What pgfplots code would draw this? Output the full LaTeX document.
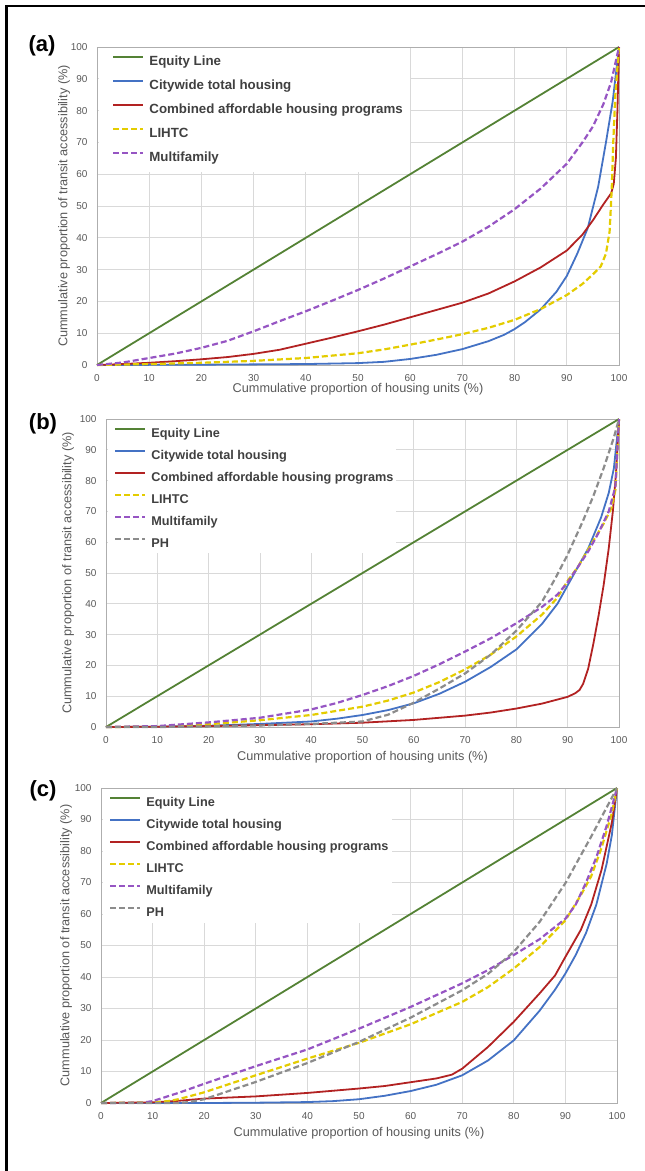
\documentclass[border=0pt]{standalone}
\usepackage{fontspec}
\setmainfont{Liberation Sans}
\usepackage{pgfplots}
\pgfplotsset{compat=1.18}

\definecolor{cgreen}{RGB}{84,130,53}
\definecolor{cblue}{RGB}{68,114,196}
\definecolor{cred}{RGB}{178,34,34}
\definecolor{cyellow}{RGB}{228,204,0}
\definecolor{cpurple}{RGB}{150,85,195}
\definecolor{cgrey}{RGB}{140,140,140}
\definecolor{gridgray}{RGB}{217,217,217}
\definecolor{labgray}{RGB}{89,89,89}
\definecolor{legtext}{RGB}{64,64,64}

\pgfplotsset{
  lorenz/.style={
    scale only axis,
    xmin=0, xmax=100, ymin=0, ymax=100,
    xtick={0,10,...,100}, ytick={0,10,...,100},
    grid=major,
    major grid style={draw=gridgray, line width=0.8pt},
    axis line style={draw=gridgray!80!black, line width=0.8pt},
    major tick length=0pt,
    tick label style={font=\fontsize{10}{12}\selectfont, text=labgray},
    xticklabel style={yshift=-6pt},
    yticklabel style={xshift=-6pt},
    /pgf/number format/assume math mode=true,
    label style={font=\fontsize{12.7}{14}\selectfont, text=labgray},
    xlabel={Cummulative proportion of housing units (\%)},
    ylabel={Cummulative proportion of transit accessibility (\%)},
    clip=false,
    legend cell align=left,
    legend style={at={(0,1)}, anchor=north west, draw=none, fill=none,
      font=\bfseries\fontsize{13.3}{15}\selectfont, text=legtext,
      inner xsep=15pt, inner ysep=8pt, column sep=5pt,
      nodes={inner sep=0pt, text height=10pt, text depth=3pt}},
    legend image code/.code={\draw[##1] (0pt,4.6pt) -- (30pt,4.6pt);},
  },
  eq/.style={color=cgreen, line width=1.8pt},
  cw/.style={color=cblue, line width=1.8pt},
  cb/.style={color=cred, line width=1.8pt},
  li/.style={color=cyellow, line width=2.2pt, dash pattern=on 6pt off 3pt},
  mf/.style={color=cpurple, line width=2.2pt, dash pattern=on 6pt off 3pt},
  ph/.style={color=cgrey, line width=2.2pt, dash pattern=on 6pt off 3pt},
}

\begin{document}
\begin{tikzpicture}
\useasboundingbox (0pt,0pt) rectangle (645pt,-1171pt);
\draw[line width=2.5pt] (6.5pt,-1171pt) -- (6.5pt,-6pt) -- (645pt,-6pt);

\node[font=\bfseries\fontsize{22}{24}\selectfont] at (42pt,-46pt) {(a)};
\node[font=\bfseries\fontsize{22}{24}\selectfont] at (43pt,-424pt) {(b)};
\node[font=\bfseries\fontsize{22}{24}\selectfont] at (43pt,-791pt) {(c)};

% (a)
\begin{axis}[lorenz, at={(97pt,-365pt)}, anchor=south west,
  width=522pt, height=318pt, legend style={row sep=11pt},
  xlabel style={at={([yshift=-24pt]axis description cs:0.5,0)}, anchor=center},
  ylabel style={at={([xshift=-33pt]axis description cs:0,0.5)}, anchor=center}]
\fill[white] (rel axis cs:0.003,0.607) rectangle (rel axis cs:0.6,0.997);
\addplot[eq] coordinates {(0,0) (100,100)};
\addlegendentry{Equity Line}
\addplot[cw] coordinates {(0,0) (10,0.05) (20,0.1) (30,0.2) (40,0.3) (45,0.45) (50,0.6) (55,1.0) (60,1.9) (65,3.2) (70,5) (75,7.5) (78,9.5) (80,11.3) (82,13.5) (85,17.5) (88,23) (90,28) (92,35) (94,43) (96,56) (97.5,70) (98.8,83) (100,100)};
\addlegendentry{Citywide total housing}
\addplot[cb] coordinates {(0,0) (5,0.3) (10,0.7) (15,1.2) (20,1.8) (25,2.5) (30,3.5) (35,4.8) (40,6.7) (45,8.6) (50,10.6) (55,12.7) (60,15) (65,17.3) (70,19.6) (75,22.5) (80,26.3) (85,30.7) (90,36) (93,41) (95,45.5) (97,50.5) (98.5,54) (99,57) (99.4,65) (99.7,80) (100,100)};
\addlegendentry{Combined affordable housing programs}
\addplot[li] coordinates {(0,0) (10,0.3) (20,0.7) (30,1.3) (40,2.2) (50,3.7) (55,4.9) (60,6.4) (65,8) (70,9.7) (75,11.7) (80,14.2) (85,17.6) (90,22) (93,25.5) (95,28.5) (96.5,31) (97.5,35) (98.2,42) (98.6,55) (98.9,70) (99.3,85) (100,100)};
\addlegendentry{LIHTC}
\addplot[mf] coordinates {(0,0) (5,0.8) (10,2.2) (15,3.6) (20,5.4) (25,7.6) (30,10.6) (35,13.8) (40,16.9) (45,20.2) (50,23.6) (55,27.2) (60,31) (65,34.8) (70,38.8) (75,43.5) (80,49) (85,55.5) (90,63.3) (93,70) (95,75) (97,82) (98.5,89) (100,100)};
\addlegendentry{Multifamily}
\end{axis}

% (b)
\begin{axis}[lorenz, at={(106pt,-727pt)}, anchor=south west,
  width=513pt, height=308pt,
  legend style={row sep=9pt, inner xsep=8pt, font=\bfseries\fontsize{12.7}{15}\selectfont},
  xlabel style={at={([yshift=-30pt]axis description cs:0.5,0)}, anchor=center},
  ylabel style={at={([xshift=-38pt]axis description cs:0,0.5)}, anchor=center}]
\fill[white] (rel axis cs:0.003,0.565) rectangle (rel axis cs:0.565,0.997);
\addplot[eq] coordinates {(0,0) (100,100)};
\addlegendentry{Equity Line}
\addplot[cw] coordinates {(0,0) (10,0.1) (20,0.4) (30,1.0) (40,1.8) (45,2.7) (50,3.9) (55,5.5) (60,7.7) (65,10.8) (70,14.7) (75,19.5) (80,25.2) (85,33.5) (88,40) (90,46) (92,52) (94,58) (95,62) (96.5,68) (98,76) (99,84) (100,100)};
\addlegendentry{Citywide total housing}
\addplot[cb] coordinates {(0,0) (10,0.1) (20,0.3) (30,0.6) (40,0.9) (50,1.4) (60,2.3) (70,3.7) (75,4.7) (80,6) (85,7.6) (90,9.8) (91.5,11) (92.3,12) (93,14) (94,19) (95,27) (96,36) (97,46) (98,58) (98.8,70) (99.4,82) (100,100)};
\addlegendentry{Combined affordable housing programs}
\addplot[li] coordinates {(0,0) (10,0.1) (20,0.9) (30,2.2) (40,3.9) (50,6.6) (55,8.6) (60,11.2) (65,14.6) (70,18.7) (75,23.5) (80,29.4) (85,36.5) (88,42) (90,47.5) (92,52) (95,60.5) (97,66) (98.5,71) (99.3,77) (100,100)};
\addlegendentry{LIHTC}
\addplot[mf] coordinates {(0,0) (10,0.3) (20,1.5) (30,3) (40,5.7) (45,7.8) (50,10.4) (55,13.3) (60,16.6) (65,20.4) (70,24.5) (75,28.8) (80,33.7) (85,39) (88,43) (90,47) (92,52) (94,57) (96,63) (98,70) (99.3,78) (100,100)};
\addlegendentry{Multifamily}
\addplot[ph] coordinates {(0,0) (10,0) (20,0.2) (30,0.5) (40,1.0) (50,1.8) (55,4) (60,7.9) (65,12.5) (70,17.4) (75,23.5) (80,31.3) (85,40.7) (87.5,48) (90,56) (93,67) (95,75) (97,84) (99,94) (100,100)};
\addlegendentry{PH}
\end{axis}

% (c)
\begin{axis}[lorenz, at={(101pt,-1103pt)}, anchor=south west,
  width=516pt, height=315pt,
  legend style={row sep=9pt, inner xsep=8pt, font=\bfseries\fontsize{12.7}{15}\selectfont},
  xlabel style={at={([yshift=-30pt]axis description cs:0.5,0)}, anchor=center},
  ylabel style={at={([xshift=-35pt]axis description cs:0,0.5)}, anchor=center}]
\fill[white] (rel axis cs:0.003,0.571) rectangle (rel axis cs:0.564,0.997);
\addplot[eq] coordinates {(0,0) (100,100)};
\addlegendentry{Equity Line}
\addplot[cw] coordinates {(0,0) (20,0) (30,0.1) (40,0.3) (45,0.6) (50,1.2) (55,2.3) (60,3.8) (65,5.8) (70,8.8) (75,13.5) (80,19.9) (85,29.3) (88,36) (90,41.1) (92,47) (94,54) (96,63) (98,76) (99,85) (100,100)};
\addlegendentry{Citywide total housing}
\addplot[cb] coordinates {(0,0) (10,0.2) (15,0.7) (20,1.4) (30,2.1) (40,3.2) (50,4.6) (55,5.4) (60,6.6) (65,7.8) (68,9) (70,10.9) (75,17.8) (80,25.8) (85,34.8) (88,40.5) (90,46.4) (93,55) (95,63) (97,74) (99,89) (100,100)};
\addlegendentry{Combined affordable housing programs}
\addplot[li] coordinates {(0,0) (10,0.2) (13,0.6) (15,1.2) (20,3.4) (30,8.8) (40,14.1) (50,19.1) (60,25) (70,32.1) (75,36.8) (80,42.7) (85,49.5) (90,58) (93,66) (95,72) (97,81) (99,92) (100,100)};
\addlegendentry{LIHTC}
\addplot[mf] coordinates {(0,0) (8,0.1) (10,0.6) (15,3.2) (20,6.1) (30,11.7) (40,17) (50,23.6) (60,30.5) (70,38) (75,42.2) (80,47) (85,52) (90,58.5) (92,63) (94,70) (96,78) (98,88) (100,100)};
\addlegendentry{Multifamily}
\addplot[ph] coordinates {(0,0) (15,0) (17,0.3) (20,1.2) (30,6.7) (40,12.7) (50,19.4) (60,27.1) (70,35.8) (75,41) (80,48) (85,57.5) (90,69.8) (95,84.6) (100,100)};
\addlegendentry{PH}
\end{axis}
\end{tikzpicture}
\end{document}
